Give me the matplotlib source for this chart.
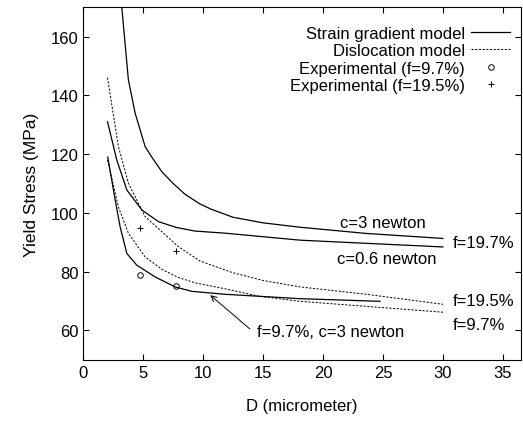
import matplotlib.pyplot as plt

plt.rcParams['font.family'] = ['Liberation Sans', 'DejaVu Sans']

# strain gradient model, f=19.7%, c=3 newton
sg_c3_x = [3.22, 3.77, 4.33, 5.17, 5.8, 6.56, 7.5, 8.5, 9.75, 10.7, 12.5, 15, 18.1, 23.6, 30]
sg_c3_y = [170, 145.3, 134, 122.5, 118.5, 114, 110, 106.3, 103, 101.2, 98.5, 96.6, 95.1, 93, 91.3]
# strain gradient model, f=19.7%, c=0.6 newton
sg_c06_x = [2.03, 2.4, 2.8, 3.64, 4.89, 6.28, 7.8, 9.33, 11.8, 18.1, 30]
sg_c06_y = [131, 124.8, 118, 107.8, 101, 97, 95, 93.8, 93.1, 90.7, 88.4]
# strain gradient model, f=9.7%, c=3 newton
sg_f97_x = [2.05, 2.67, 3.08, 3.64, 4.47, 6, 7.67, 9.06, 11.8, 18.1, 24.75]
sg_f97_y = [119, 104.4, 95.3, 86.2, 82.2, 78.2, 74.8, 73.3, 72.3, 70.8, 69.9]
# dislocation model, f=19.5%
dis_f195_x = [2.03, 2.94, 3.78, 5.17, 6.56, 7.94, 9.75, 12.5, 15, 18.1, 23.6, 30]
dis_f195_y = [146, 122.5, 110, 98.7, 93.6, 88.5, 83.6, 79.6, 77, 74.8, 72.3, 68.9]
# dislocation model, f=9.7%
dis_f97_x = [2.03, 2.94, 3.78, 5.17, 6.56, 7.94, 9.33, 11.8, 14.7, 18.1, 30]
dis_f97_y = [118, 102, 93, 85, 80.8, 78, 76.2, 74.2, 71.6, 69.9, 66.2]
# experiments
exp_f97_x = [4.75, 7.75]
exp_f97_y = [78.8, 75]
exp_f195_x = [4.75, 7.75]
exp_f195_y = [95, 87]

fig = plt.figure(figsize=(5.23, 4.27), dpi=100)
ax = fig.add_axes([0.159, 0.155, 0.837, 0.826])

lw = 0.9
dash = (0, (2.2, 1.6))
ax.plot(sg_c3_x, sg_c3_y, 'k-', lw=lw, label='Strain gradient model')
ax.plot(sg_c06_x, sg_c06_y, 'k-', lw=lw)
ax.plot(sg_f97_x, sg_f97_y, 'k-', lw=lw)
ax.plot(dis_f195_x, dis_f195_y, 'k', ls=dash, lw=0.7, label='Dislocation model')
ax.plot(dis_f97_x, dis_f97_y, 'k', ls=dash, lw=0.7)
ax.plot(exp_f97_x, exp_f97_y, 'o', mfc='none', mec='k', ms=4, mew=0.7,
        ls='none', label='Experimental (f=9.7%)')
ax.plot(exp_f195_x, exp_f195_y, '+', color='k', ms=4, mew=0.7,
        ls='none', label='Experimental (f=19.5%)')

fs = 12
ax.text(25, 96.6, 'c=3 newton', fontsize=fs, ha='center', va='center')
ax.text(25.3, 84.4, 'c=0.6 newton', fontsize=fs, ha='center', va='center')
ax.text(30.8, 89.8, 'f=19.7%', fontsize=fs, ha='left', va='center')
ax.text(30.8, 70.3, 'f=19.5%', fontsize=fs, ha='left', va='center')
ax.text(30.8, 62, 'f=9.7%', fontsize=fs, ha='left', va='center')
ax.text(14.5, 59.5, 'f=9.7%, c=3 newton', fontsize=fs, ha='left', va='center')
ax.annotate('', xy=(10.6, 72), xytext=(13.9, 60.5),
            arrowprops=dict(arrowstyle='->', color='k', lw=0.7,
                            shrinkA=0, shrinkB=0))

ax.set_xlim(0, 36.5)
ax.set_ylim(50, 170)
ax.set_xticks(range(0, 36, 5))
ax.set_yticks(range(60, 161, 20))
ax.tick_params(direction='in', top=True, right=True, labelsize=fs, length=4)
ax.set_xlabel('D (micrometer)', fontsize=fs, labelpad=13)
ax.set_ylabel('Yield Stress (MPa)', fontsize=12.5, labelpad=8)

leg = ax.legend(loc='upper right', frameon=False, fontsize=fs, markerfirst=False,
                handlelength=2.3, labelspacing=0.15, borderaxespad=0.4,
                handletextpad=0.4, bbox_to_anchor=(1.005, 0.985))
for t in leg.get_texts():
    t.set_ha('right')

plt.savefig('out.png', dpi=100)
